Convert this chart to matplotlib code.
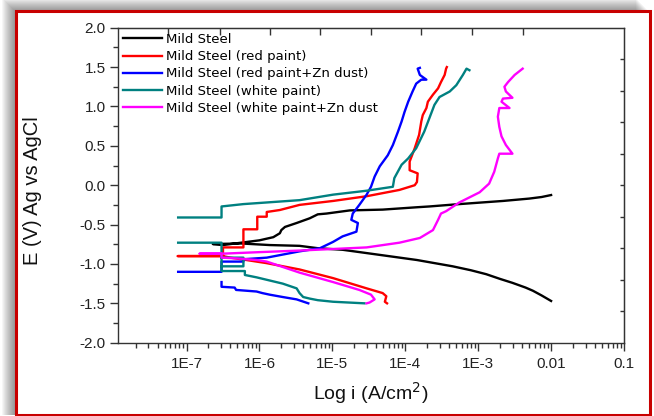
import numpy as np
import matplotlib
matplotlib.use('agg')
from matplotlib import pyplot as plt
from matplotlib.patches import Rectangle
from matplotlib.ticker import FixedLocator, FuncFormatter, LogLocator, MultipleLocator, NullFormatter

plt.rcParams['font.family'] = ['Liberation Sans', 'DejaVu Sans']

nan = np.nan

# log10(i / A cm^-2) and E (V vs Ag/AgCl)
ms_logi = [-2.0, -2.13, -2.25, -2.35, -2.53, -2.70, -2.89, -3.10, -3.35, -3.84,
           -4.31, -4.86, -5.20, -5.45, -5.86, -6.25, -6.64,
           -6.50, -6.25, -6.0, -5.81, -5.72, -5.70, -5.65, -5.49, -5.31, -5.20, -5.08,
           -4.76, -4.31, -3.84, -3.67, -3.26, -2.66, -2.30, -2.13, -2.0]
ms_e = [-1.47, -1.40, -1.34, -1.30, -1.24, -1.19, -1.13, -1.08, -1.03, -0.95,
        -0.89, -0.82, -0.80, -0.77, -0.76, -0.74, -0.747,
        -0.76, -0.73, -0.70, -0.66, -0.61, -0.57, -0.53, -0.48, -0.42, -0.37, -0.36,
        -0.32, -0.31, -0.28, -0.27, -0.24, -0.20, -0.17, -0.15, -0.125]

red_logi = [-4.25, -4.28, -4.26, -4.31, -4.53, -4.99, -5.45, -5.90, -6.18, -6.40, -6.50, -7.12,
            -6.50, -6.50, -6.22, -6.22, -6.03, -6.03, -5.90, -5.90, -5.72, -5.45, -4.99, -4.53,
            -4.08, -3.87, -3.84, -3.83, -3.94, -3.94, -3.87, -3.81, -3.78, -3.76, -3.71, -3.69,
            -3.62, -3.55, -3.51, -3.46, -3.44, -3.43]
red_e = [-1.50, -1.48, -1.41, -1.37, -1.31, -1.18, -1.07, -0.99, -0.95, -0.92, -0.90, -0.90,
         -0.90, -0.79, -0.79, -0.56, -0.56, -0.40, -0.40, -0.34, -0.315, -0.25, -0.20, -0.14,
         -0.06, 0.0, 0.04, 0.15, 0.19, 0.30, 0.47, 0.64, 0.81, 0.89, 0.98, 1.06,
         1.15, 1.23, 1.31, 1.40, 1.48, 1.50]

blue_logi = [-5.33, -5.49, -5.68, -5.86, -5.96, -6.04, -6.32, -6.34, -6.52, -6.52, nan,
             -7.115, -6.52, -6.52, -6.22, -6.22, -5.90, -5.45, -5.17, -4.99, -4.86, -4.67,
             -4.65, -4.74, -4.72, -4.63, -4.53, -4.47, -4.42, -4.35, -4.24, -4.17, -4.10,
             -4.05, -4.01, -3.96, -3.90, -3.85, -3.78, -3.71, -3.80, -3.83, -3.80]
blue_e = [-1.50, -1.45, -1.42, -1.39, -1.37, -1.35, -1.33, -1.30, -1.29, -1.23, nan,
          -1.10, -1.10, -0.97, -0.97, -0.94, -0.92, -0.84, -0.80, -0.72, -0.65, -0.59,
          -0.48, -0.44, -0.36, -0.25, -0.12, -0.02, 0.11, 0.24, 0.38, 0.51, 0.68,
          0.81, 0.93, 1.06, 1.19, 1.29, 1.34, 1.34, 1.40, 1.48, 1.49]

teal_logi = [-4.56, -4.99, -5.20, -5.31, -5.40, -5.45, -5.49, -5.68, -5.86, -6.04, -6.20, -6.20,
             -6.52, -6.52, -7.115, nan,
             -6.52, -6.22, -6.22, -6.52, nan,
             -7.115, -6.52, -6.52, -6.22, -5.45, -4.99, -4.53, -4.17, -4.15, -4.05, -3.96,
             -3.85, -3.74, -3.67, -3.60, -3.53, -3.39, -3.30, -3.21, -3.16, -3.12]
teal_e = [-1.50, -1.48, -1.46, -1.44, -1.42, -1.37, -1.31, -1.25, -1.21, -1.17, -1.14, -1.09,
          -1.09, -0.73, -0.73, nan,
          -0.92, -0.92, -1.03, -1.03, nan,
          -0.41, -0.41, -0.27, -0.24, -0.19, -0.12, -0.07, -0.02, 0.09, 0.26, 0.34,
          0.47, 0.68, 0.85, 1.02, 1.12, 1.19, 1.27, 1.40, 1.48, 1.46]

mag_logi = [-4.53, -4.49, -4.42, -4.47, -4.63, -4.99, -5.45, -5.90, -6.04, -6.30, -6.52,
            -6.52, -6.82, -6.52, -6.0, -5.45, -4.99, -4.53, -4.08, -3.80, -3.62, -3.55,
            -3.51, -3.44, -3.26, -2.98, -2.85, -2.78, -2.73, -2.71, -2.53, -2.62, -2.68,
            -2.71, -2.73, -2.71, -2.57, -2.68, -2.66, -2.53, -2.62, -2.64, -2.59, -2.50, -2.39]
mag_e = [-1.50, -1.49, -1.45, -1.39, -1.33, -1.23, -1.11, -0.97, -0.95, -0.93, -0.92,
         -0.87, -0.87, -0.87, -0.85, -0.83, -0.81, -0.79, -0.73, -0.67, -0.57, -0.44,
         -0.36, -0.33, -0.22, -0.09, 0.02, 0.17, 0.34, 0.40, 0.40, 0.51, 0.62,
         0.74, 0.87, 0.98, 0.98, 1.06, 1.10, 1.11, 1.19, 1.25, 1.31, 1.40, 1.48]

series = [
    ('Mild Steel', ms_logi, ms_e, 'black'),
    ('Mild Steel (red paint)', red_logi, red_e, '#ff0000'),
    ('Mild Steel (red paint+Zn dust)', blue_logi, blue_e, '#0000ff'),
    ('Mild Steel (white paint)', teal_logi, teal_e, '#008080'),
    ('Mild Steel (white paint+Zn dust', mag_logi, mag_e, '#ff00ff'),
]

fig = plt.figure(figsize=(6.54, 4.16), dpi=100)

# soft drop shadow (top/left) + red frame around the whole picture
for k in range(1, 14):
    fig.patches.append(Rectangle((15 - k, 1), 634, 404 + k, transform=None,
                                 facecolor='black', edgecolor='none', alpha=0.035,
                                 zorder=0))
fig.patches.append(Rectangle((15.5, 1.5), 634, 403.5, transform=None, facecolor='white',
                             edgecolor='#c80000', lw=2.2, zorder=1))

ax = fig.add_axes([118 / 654, 1 - 342.7 / 416, 506 / 654, 315 / 416])
ax.set_zorder(2)

for label, logi, e, color in series:
    ax.plot(10 ** np.asarray(logi), e, color=color, lw=1.7, label=label)

ax.set_xscale('log')
ax.set_xlim(10 ** -7.94, 0.1)
ax.set_ylim(-2.0, 2.0)

ax.xaxis.set_major_locator(FixedLocator([1e-7, 1e-6, 1e-5, 1e-4, 1e-3, 1e-2, 1e-1]))
ax.xaxis.set_minor_locator(LogLocator(base=10, subs=np.arange(2, 10), numticks=20))
ax.xaxis.set_minor_formatter(NullFormatter())


def xfmt(v, pos):
    p = int(round(np.log10(v)))
    return f'1E{p}' if p <= -3 else f'{v:g}'


ax.xaxis.set_major_formatter(FuncFormatter(xfmt))
ax.yaxis.set_major_locator(MultipleLocator(0.5))
ax.yaxis.set_minor_locator(MultipleLocator(0.25))
ax.yaxis.set_major_formatter(FuncFormatter(lambda v, p: f'{v:.1f}'))

ax.tick_params(which='major', direction='out', length=6, width=1, labelsize=11,
               colors='#333333', top=False, right=False)
ax.tick_params(which='minor', direction='out', length=3.5, width=1, colors='#333333',
               top=False, right=False)
ax.tick_params(axis='x', pad=4, labelcolor='#222222')
ax.tick_params(axis='y', pad=3, labelcolor='#222222')
for sp in ax.spines.values():
    sp.set_color('#333333')
    sp.set_linewidth(1.0)

top = ax.secondary_xaxis('top')
top.set_xticks(10 ** np.array([-7.25, -6.54, -5.86, -5.17, -4.47, -3.78, -3.08, -2.39]))
top.xaxis.set_minor_locator(FixedLocator([]))
top.tick_params(direction='in', length=5, width=1, labeltop=False, colors='#333333')
top.spines['top'].set_color('#333333')

right = ax.secondary_yaxis('right')
right.set_yticks(np.arange(-1.6, 1.7, 0.4))
right.tick_params(direction='in', length=3, width=1, labelright=False, colors='#333333')
right.spines['right'].set_color('#333333')

ax.set_xlabel('Log i (A/cm$^2$)', fontsize=14, color='#111111', labelpad=7)
ax.set_ylabel('E (V) Ag vs AgCl', fontsize=14.5, color='#111111')
ax.yaxis.set_label_coords(-0.150, 0.482)

ax.legend(loc='upper left', bbox_to_anchor=(0.0, 1.0), frameon=False,
          prop={'family': 'DejaVu Sans', 'size': 9.5},
          handlelength=2.9, handletextpad=0.3, labelspacing=0.32, borderaxespad=0.3,
          borderpad=0.1)

fig.savefig('out.png', dpi=100)
